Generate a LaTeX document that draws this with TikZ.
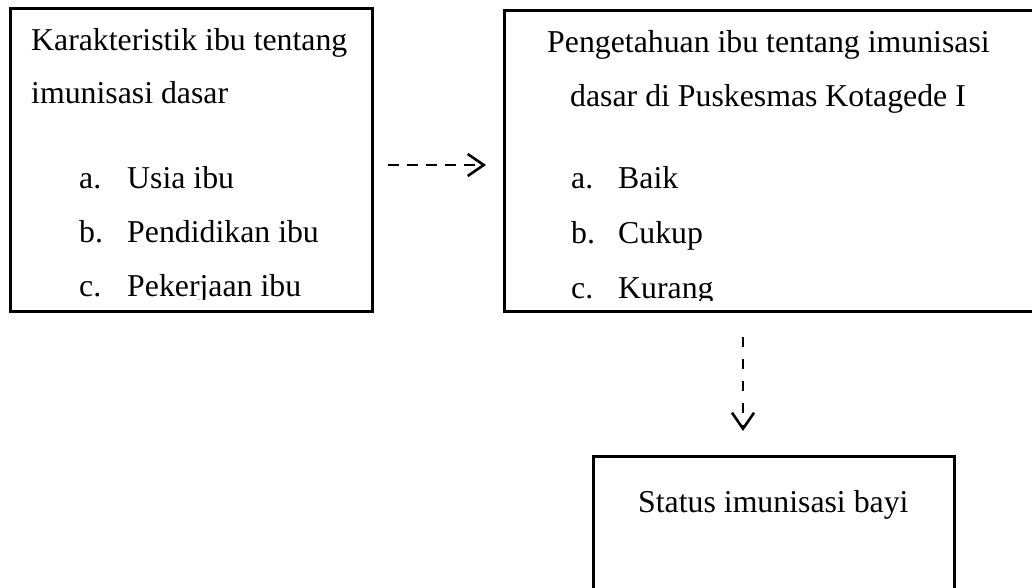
\documentclass[tikz,border=0pt]{standalone}
\usepackage{fontspec}
\setmainfont{Liberation Serif}
\usetikzlibrary{arrows.meta}
\begin{document}
\begin{tikzpicture}[x=1pt,y=-1pt,
  boxline/.style={draw=black,line width=3pt,inner sep=0pt,outer sep=0pt,anchor=north west},
  txt/.style={anchor=base west,inner sep=0pt,font=\fontsize{31.8}{36}\selectfont},
  dasharrow/.style={line width=2.8pt,dash pattern=on 11pt off 8pt,-{Straight Barb[length=16pt,width=22pt,line width=2.6pt]}}]
\clip (0,0) rectangle (1032,587);
\fill[white] (0,0) rectangle (1032,587);
% boxes
\node[boxline,minimum width=362pt,minimum height=303pt] (kar) at (10,8) {};
\node[boxline,minimum width=560pt,minimum height=301pt] (peng) at (504,10) {};
\node[boxline,minimum width=361pt,minimum height=200pt] (stat) at (593,456) {};
% texts of left box
\begin{scope}
\clip (10,8) rectangle (372,299);
\node[txt] (k1) at (31,50) {Karakteristik ibu tentang};
\node[txt] (k2) at (31,103) {imunisasi dasar};
\node[txt] (ka) at (79,188) {a.};
\node[txt] (kat) at (127,188) {Usia ibu};
\node[txt] (kb) at (79,242) {b.};
\node[txt] (kbt) at (127,242) {Pendidikan ibu};
\node[txt] (kc) at (79,296) {c.};
\node[txt] (kct) at (127,296) {Pekerjaan ibu};
\end{scope}
% texts of right box
\begin{scope}
\clip (504,10) rectangle (1032,300);
\node[txt] (p1) at (547,52) {Pengetahuan ibu tentang imunisasi};
\node[txt] (p2) at (570,106) {dasar di Puskesmas Kotagede I};
\node[txt] (pa) at (571,188) {a.};
\node[txt] (pat) at (618,188) {Baik};
\node[txt] (pb) at (571,243) {b.};
\node[txt] (pbt) at (618,243) {Cukup};
\node[txt] (pc) at (571,298) {c.};
\node[txt] (pct) at (618,298) {Kurang};
\end{scope}
% text of bottom box
\node[txt] (s1) at (638,512) {Status imunisasi bayi};
% arrows
\coordinate (h1) at (388,165);
\coordinate (h2) at (486,165);
\coordinate (v1) at (743,337);
\coordinate (v2) at (743,431);
\draw[dasharrow] (h1) -- (h2);
\draw[dasharrow,dash pattern=on 10pt off 12pt] (v1) -- (v2);
\end{tikzpicture}
\end{document}
